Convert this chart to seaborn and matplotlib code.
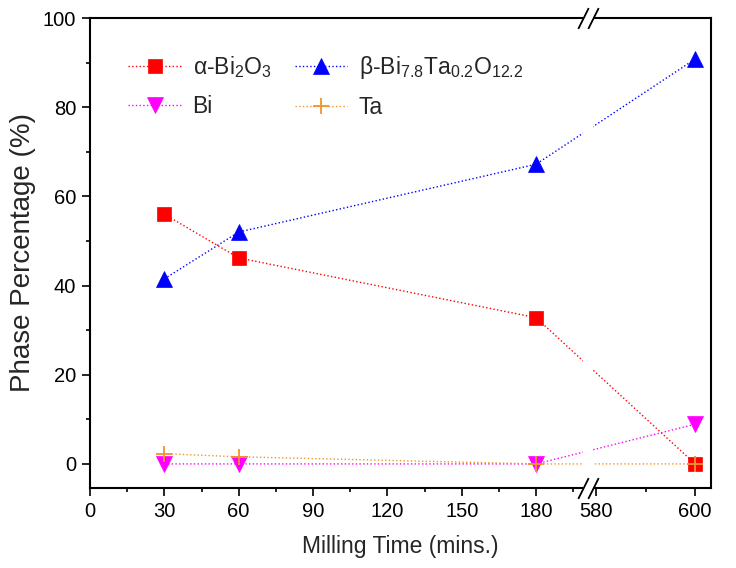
import numpy as np
import matplotlib
matplotlib.use("Agg")
import matplotlib.pyplot as plt
import seaborn as sns

# phase fractions (%)
milling_time = [30, 60, 180, 600]
alpha_bi2o3 = [56.0, 46.2, 32.8, 0.0]
beta_phase = [41.5, 52.0, 67.2, 90.8]
bi_metal = [0.0, 0.0, 0.0, 8.9]
ta_metal = [2.3, 1.6, 0.0, 0.0]

series_labels = ["α-Bi$_2$O$_3$", "β-Bi$_{7.8}$Ta$_{0.2}$O$_{12.2}$", "Bi", "Ta"]

x_major = [0, 30, 60, 90, 120, 150, 180, 580, 600]
x_minor = [15, 45, 75, 105, 135, 165, 195, 590]
y_major = [0, 20, 40, 60, 80, 100]
y_minor = [10, 30, 50, 70, 90]

# broken x axis: left part ends at BRK_LO, right part starts at BRK_HI
BRK_LO, BRK_HI = 199.0, 579.4
GAP = 4.0   # width of the break in left-part units
K = 2.0     # right part is drawn twice as wide per minute


def fwd(x):
    x = np.asarray(x, dtype=float)
    mid = BRK_LO + (x - BRK_LO) * GAP / (BRK_HI - BRK_LO)
    right = BRK_LO + GAP + (x - BRK_HI) * K
    return np.where(x <= BRK_LO, x, np.where(x >= BRK_HI, right, mid))


def inv(v):
    v = np.asarray(v, dtype=float)
    mid = BRK_LO + (v - BRK_LO) * (BRK_HI - BRK_LO) / GAP
    right = BRK_HI + (v - BRK_LO - GAP) / K
    return np.where(v <= BRK_LO, v, np.where(v >= BRK_LO + GAP, right, mid))


sns.set_theme(style="ticks")
plt.rcParams["font.family"] = ["Liberation Sans", "DejaVu Sans"]
plt.rcParams["mathtext.fontset"] = "custom"
plt.rcParams["mathtext.rm"] = "Liberation Sans"
plt.rcParams["mathtext.it"] = "Liberation Sans:italic"
plt.rcParams["mathtext.default"] = "regular"

fig = plt.figure(figsize=(7.36, 5.68), dpi=100)
ax = fig.add_axes([90 / 736, 1 - 488 / 568, 621 / 736, 470 / 568])

styles = [
    (alpha_bi2o3, "#ff0000", "s", 10),
    (beta_phase, "#0000ff", "^", 11),
    (bi_metal, "#ff00ff", "v", 11),
    (ta_metal, "#f0952a", "+", 11),
]
for (vals, col, mk, ms), lab in zip(styles, series_labels):
    sns.lineplot(x=milling_time, y=vals, ax=ax, color=col, marker=mk,
                 markersize=ms, markeredgecolor=col, markerfacecolor=col,
                 markeredgewidth=1.3 if mk == "+" else 0.5,
                 linestyle=":", linewidth=1.0, label=lab)

ax.set_xscale("function", functions=(fwd, inv))
ax.set_xlim(0, 603.2)
ax.set_ylim(-5.4, 100)
ax.set_xticks(x_major)
ax.set_xticks(x_minor, minor=True)
ax.set_xticklabels([str(v) for v in x_major])
ax.set_yticks(y_major)
ax.set_yticks(y_minor, minor=True)

for side in ["left", "right", "top", "bottom"]:
    ax.spines[side].set_linewidth(1.5)
    ax.spines[side].set_color("black")
ax.tick_params(axis="both", which="major", direction="out", length=6,
               width=1.2, labelsize=14.5, colors="black", pad=4)
ax.tick_params(axis="both", which="minor", direction="out", length=3,
               width=1.2, colors="black")

ax.set_xlabel("Milling Time (mins.)", fontsize=16.5, labelpad=10)
ax.set_ylabel("Phase Percentage (%)", fontsize=20, labelpad=5)

# white gap and // marks for the axis break
band = ax.axvspan(BRK_LO, BRK_HI, ymin=-0.012, ymax=1.012, color="white",
                  lw=0, zorder=5)
band.set_clip_on(False)
ax.plot([BRK_LO, BRK_HI, BRK_LO, BRK_HI], [0, 0, 1, 1],
        transform=ax.get_xaxis_transform(), marker=[(-0.5, -1), (0.5, 1)],
        markersize=15, linestyle="none", color="black", mec="black",
        mew=1.3, clip_on=False, zorder=6)

h, l = ax.get_legend_handles_labels()
order = [0, 2, 1, 3]
ax.legend([h[i] for i in order], [l[i] for i in order], ncol=2,
          loc="upper left", bbox_to_anchor=(0.047, 0.943), frameon=False,
          fontsize=16.5, handlelength=2.3, handletextpad=0.5,
          columnspacing=1.0, labelspacing=0.65, borderaxespad=0)

fig.savefig("out.png", dpi=100)
